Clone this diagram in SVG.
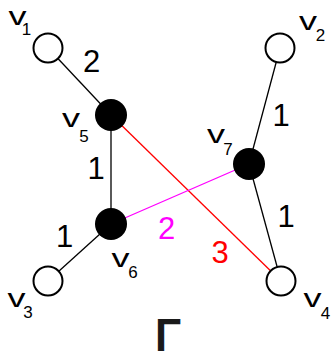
<svg xmlns="http://www.w3.org/2000/svg" width="331" height="354" viewBox="0 0 331 354">
<style>
.e{stroke:#000;stroke-width:1.3;fill:none}
.open{fill:#fff;stroke:#000;stroke-width:2}
.full{fill:#000}
text{font-family:"Liberation Sans",Arial,sans-serif;text-anchor:middle}
.v{font-size:25px}
.s{font-size:17px}
.w{font-size:31px}
</style>
<rect width="331" height="354" fill="#fff"/>
<g id="edges">
<line class="e" x1="48" y1="48" x2="111" y2="115"/>
<line class="e" x1="280" y1="48" x2="249" y2="164"/>
<line class="e" x1="111" y1="115" x2="111" y2="224"/>
<line class="e" x1="111" y1="224" x2="48" y2="281"/>
<line class="e" x1="249" y1="164" x2="281" y2="281"/>
<line class="e" x1="111" y1="115" x2="281" y2="281" style="stroke:#ff0000"/>
<line class="e" x1="111" y1="224" x2="249" y2="164" style="stroke:#ff00ff"/>
<text class="w" x="91.5" y="72">2</text>
<text class="w" x="96" y="179">1</text>
<text class="w" x="281" y="126">1</text>
<text class="w" x="286" y="227">1</text>
<text class="w" x="64.5" y="247">1</text>
<text class="w" x="166.5" y="239" fill="#ff00ff">2</text>
<text class="w" x="220" y="263" fill="#ff0000">3</text>
</g>
<g id="v1"><circle class="open" cx="48" cy="48" r="14.5"/><text class="v" x="17.5" y="25" textLength="18" lengthAdjust="spacingAndGlyphs">v</text><text class="s" x="26.5" y="35">1</text></g>
<g id="v2"><circle class="open" cx="280" cy="48" r="14.5"/><text class="v" x="308" y="30" textLength="18" lengthAdjust="spacingAndGlyphs">v</text><text class="s" x="320.5" y="41">2</text></g>
<g id="v3"><circle class="open" cx="48" cy="281" r="14.5"/><text class="v" x="16.5" y="307" textLength="18" lengthAdjust="spacingAndGlyphs">v</text><text class="s" x="28" y="318">3</text></g>
<g id="v4"><circle class="open" cx="281" cy="281" r="14.5"/><text class="v" x="312.5" y="307" textLength="18" lengthAdjust="spacingAndGlyphs">v</text><text class="s" x="325.5" y="319">4</text></g>
<g id="v5"><circle class="full" cx="111" cy="115" r="16"/><text class="v" x="71" y="127" textLength="18" lengthAdjust="spacingAndGlyphs">v</text><text class="s" x="84" y="142">5</text></g>
<g id="v6"><circle class="full" cx="111" cy="224" r="16"/><text class="v" x="120.5" y="267" textLength="18" lengthAdjust="spacingAndGlyphs">v</text><text class="s" x="133" y="278">6</text></g>
<g id="v7"><circle class="full" cx="249" cy="164" r="16"/><text class="v" x="216" y="143" textLength="18" lengthAdjust="spacingAndGlyphs">v</text><text class="s" x="228" y="155">7</text></g>
<g id="title"><text x="168" y="351" style="font-size:47px;font-weight:bold" fill="#1a1a1a" textLength="26" lengthAdjust="spacingAndGlyphs">Γ</text></g>
</svg>
